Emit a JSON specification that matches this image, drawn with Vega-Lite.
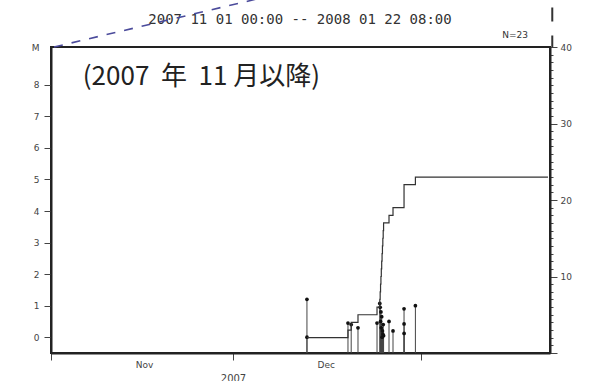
{
  "$schema": "https://vega.github.io/schema/vega-lite/v6.json",
  "width": 499,
  "height": 306,
  "autosize": "none",
  "padding": {"left": 51, "top": 47, "right": 45, "bottom": 28},
  "background": "white",
  "config": {
    "view": {"stroke": "#222", "strokeWidth": 2},
    "font": "DejaVu Sans",
    "axis": {"domainColor": "#222", "domainWidth": 2, "tickColor": "#444", "labelColor": "#444", "labelFontSize": 9, "grid": false, "titleFontWeight": "normal", "titleColor": "#444", "labelFont": "DejaVu Sans", "titleFont": "DejaVu Sans", "labelOverlap": false}
  },
  "datasets": {
    "events": [
      {"t": "2007-12-13T05:30:00", "m": 1.2},
      {"t": "2007-12-13T05:40:00", "m": 0.0},
      {"t": "2007-12-20T00:00:00", "m": 0.45},
      {"t": "2007-12-20T12:45:00", "m": 0.4},
      {"t": "2007-12-21T15:40:00", "m": 0.3},
      {"t": "2007-12-24T19:00:00", "m": 0.45},
      {"t": "2007-12-25T06:00:00", "m": 1.07},
      {"t": "2007-12-25T07:30:00", "m": 0.95},
      {"t": "2007-12-25T09:00:00", "m": 0.5},
      {"t": "2007-12-25T10:30:00", "m": 0.8},
      {"t": "2007-12-25T12:00:00", "m": 0.3},
      {"t": "2007-12-25T13:30:00", "m": 0.65},
      {"t": "2007-12-25T15:00:00", "m": 0.0},
      {"t": "2007-12-25T16:30:00", "m": 0.2},
      {"t": "2007-12-25T18:00:00", "m": 0.1},
      {"t": "2007-12-25T19:30:00", "m": 0.4},
      {"t": "2007-12-25T21:00:00", "m": 0.05},
      {"t": "2007-12-26T18:30:00", "m": 0.5},
      {"t": "2007-12-27T10:20:00", "m": 0.2},
      {"t": "2007-12-29T06:00:00", "m": 0.9},
      {"t": "2007-12-29T06:10:00", "m": 0.42},
      {"t": "2007-12-29T06:20:00", "m": 0.12},
      {"t": "2007-12-31T03:00:00", "m": 1.0}
    ],
    "cum": [
      {"t": "2007-12-13T05:30:00", "n": 2},
      {"t": "2007-12-20T00:00:00", "n": 3},
      {"t": "2007-12-20T12:45:00", "n": 4},
      {"t": "2007-12-21T15:40:00", "n": 5},
      {"t": "2007-12-24T19:00:00", "n": 6},
      {"t": "2007-12-25T06:00:00", "n": 7},
      {"t": "2007-12-25T07:30:00", "n": 8},
      {"t": "2007-12-25T09:00:00", "n": 9},
      {"t": "2007-12-25T10:30:00", "n": 10},
      {"t": "2007-12-25T12:00:00", "n": 11},
      {"t": "2007-12-25T13:30:00", "n": 12},
      {"t": "2007-12-25T15:00:00", "n": 13},
      {"t": "2007-12-25T16:30:00", "n": 14},
      {"t": "2007-12-25T18:00:00", "n": 15},
      {"t": "2007-12-25T19:30:00", "n": 16},
      {"t": "2007-12-25T21:00:00", "n": 17},
      {"t": "2007-12-26T18:30:00", "n": 18},
      {"t": "2007-12-27T10:20:00", "n": 19},
      {"t": "2007-12-29T06:00:00", "n": 22},
      {"t": "2007-12-31T03:00:00", "n": 23},
      {"t": "2008-01-22T00:00:00", "n": 23}
    ]
  },
  "layer": [
    {
      "encoding": {
        "x": {
          "field": "t", "type": "temporal",
          "scale": {"domain": [{"year": 2007, "month": 11, "date": 1}, {"year": 2008, "month": 1, "date": 22, "hours": 8}]},
          "axis": {
            "values": [{"year": 2007, "month": 11, "date": 1}, {"year": 2007, "month": 12, "date": 1}, {"year": 2008, "month": 1, "date": 1}],
            "labelExpr": "month(datum.value) === 0 ? '' : timeFormat(datum.value, '%b')",
            "labelOffset": 93, "labelFlush": false, "labelOverlap": false,
            "tickSize": 7, "labelPadding": 0,
            "title": "2007", "titleX": 182, "titleY": 20, "titleAlign": "center", "titleBaseline": "top", "titleFontSize": 10
          }
        },
        "y": {
          "field": "m", "type": "quantitative",
          "scale": {"domain": [-0.5, 9.2], "nice": false, "zero": false},
          "axis": {
            "values": [0, 1, 2, 3, 4, 5, 6, 7, 8],
            "tickCount": 9,
            "labelOverlap": false,
            "tickSize": 7, "labelPadding": 5,
            "title": "M", "titleAngle": 0, "titleX": -16, "titleY": 0, "titleAlign": "center", "titleBaseline": "middle", "titleFontSize": 9
          }
        }
      },
      "layer": [
        {
          "data": {"name": "events"},
          "mark": {"type": "rule", "color": "#444", "strokeWidth": 1},
          "encoding": {"y2": {"datum": -0.5}}
        },
        {
          "data": {"name": "events"},
          "mark": {"type": "point", "filled": true, "size": 14, "color": "#111", "opacity": 1}
        },
        {
          "data": {"values": [{"t": "2007-11-06T06:00:00", "m": 8.25, "label": "(2007\u00a0\u00a0年\u00a0\u00a011 月以降)"}]},
          "mark": {"type": "text", "align": "left", "baseline": "middle", "font": "Noto Sans CJK JP", "fontSize": 26, "color": "#222"},
          "encoding": {"text": {"field": "label"}}
        },
        {
          "data": {"values": [{"t": "2007-12-12T02:00:00", "m": 10.05, "label": "2007 11 01 00:00 -- 2008 01 22 08:00"}]},
          "mark": {"type": "text", "align": "center", "baseline": "middle", "font": "DejaVu Sans Mono", "fontSize": 14, "color": "#333"},
          "encoding": {"text": {"field": "label"}}
        },
        {
          "data": {"values": [{"t": "2008-01-18T17:00:00", "m": 9.58, "label": "N=23"}]},
          "mark": {"type": "text", "align": "right", "baseline": "middle", "fontSize": 9, "color": "#333"},
          "encoding": {"text": {"field": "label"}}
        },
        {
          "data": {"values": [{"t": "2007-11-01T12:00:00", "t2": "2007-12-10T00:00:00", "m": 9.2, "m2": 10.95}]},
          "mark": {"type": "rule", "color": "#4b4b9b", "strokeWidth": 1.6, "strokeDash": [9, 9]},
          "encoding": {"x2": {"field": "t2"}, "y2": {"field": "m2"}}
        },
        {
          "data": {"values": [{"t": "2008-01-22T17:00:00", "m": 10.45, "m2": 9.2}]},
          "mark": {"type": "rule", "color": "#333", "strokeWidth": 2, "strokeDash": [14, 14]},
          "encoding": {"y2": {"field": "m2"}}
        }
      ]
    },
    {
      "data": {"name": "cum"},
      "mark": {"type": "line", "interpolate": "step-after", "color": "#333", "strokeWidth": 1.2},
      "encoding": {
        "x": {"field": "t", "type": "temporal"},
        "y": {
          "field": "n", "type": "quantitative",
          "scale": {"domain": [0, 40], "nice": false},
          "axis": {
            "orient": "right",
            "values": [0, 1, 2, 3, 4, 5, 6, 7, 8, 9, 10, 11, 12, 13, 14, 15, 16, 17, 18, 19, 20, 21, 22, 23, 24, 25, 26, 27, 28, 29, 30, 31, 32, 33, 34, 35, 36, 37, 38, 39, 40],
            "labelExpr": "datum.value % 10 === 0 && datum.value > 0 ? datum.label : ''",
            "labelOverlap": false,
            "tickSize": {"condition": {"test": "datum.value % 10 === 0", "value": 7}, "value": 3},
            "labelPadding": 3,
            "title": null
          }
        }
      }
    }
  ],
  "resolve": {"scale": {"y": "independent"}}
}
